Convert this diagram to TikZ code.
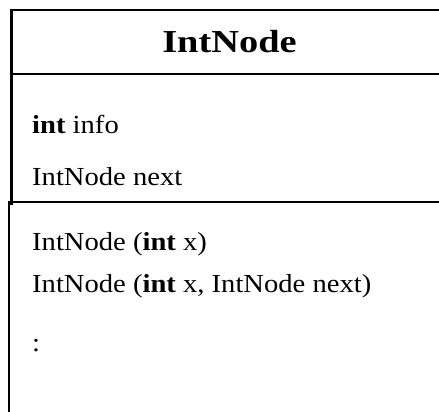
\documentclass[tikz,border=0pt]{standalone}
\usepackage{fontspec}
\setmainfont[FakeStretch=1.1]{Liberation Serif}
\newfontfamily\umltitlefont[FakeStretch=1.2]{Liberation Serif}
\begin{document}
\begin{tikzpicture}[x=1pt,y=-1pt,
  boxline/.style={line width=2.2pt,black},
  titletext/.style={anchor=base,inner sep=0pt,font=\umltitlefont\fontsize{32}{36}\selectfont\bfseries},
  membertext/.style={anchor=base west,inner sep=0pt,font=\fontsize{26}{30}\selectfont}]
\useasboundingbox (0,0) rectangle (439,412);
% upper box (name + attributes)
\coordinate (utr) at (439,10.3);
\coordinate (utl) at (11.5,10.3);
\coordinate (ubl) at (11.5,205);
\coordinate (dl) at (11.5,74);
\coordinate (dr) at (439,74);
\draw[boxline] (utr) -- (utl) -- (ubl);
\draw[boxline] (dl) -- (dr);
% lower box (operations)
\coordinate (ltr) at (439,202);
\coordinate (ltl) at (9,202);
\coordinate (lbl) at (9,412);
\draw[boxline] (ltr) -- (ltl) -- (lbl);
% texts
\node[titletext] (title) at (229.5,53) {IntNode};
\node[membertext] (a1) at (32,133) {\textbf{int} info};
\node[membertext] (a2) at (32,185) {IntNode next};
\node[membertext] (m1) at (32,250) {IntNode (\textbf{int} x)};
\node[membertext] (m2) at (32,292) {IntNode (\textbf{int} x, IntNode next)};
\node[membertext] (m3) at (32,351) {:};
\end{tikzpicture}
\end{document}
